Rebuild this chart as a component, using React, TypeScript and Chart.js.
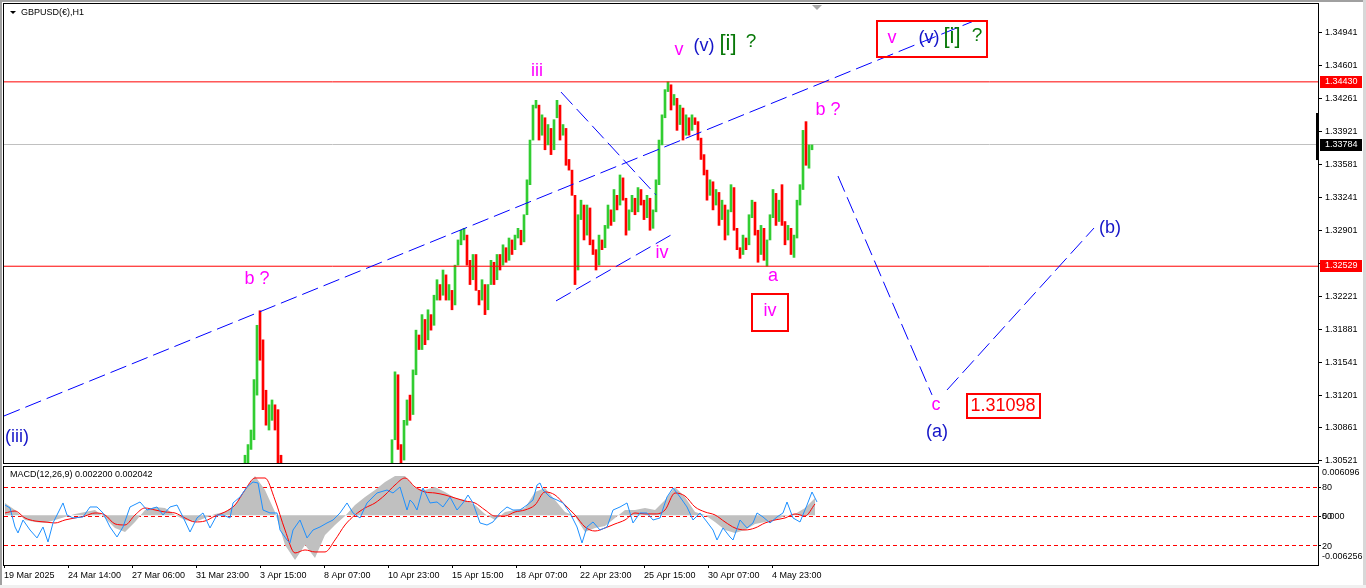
import { useEffect, useRef } from "react";
import { Chart, registerables } from "chart.js";

Chart.register(...registerables);

const FONT = "'Liberation Sans', Arial, Helvetica, sans-serif";

// ---------- time axis ----------
const TIME_LABELS = [
  "19 Mar 2025", "24 Mar 14:00", "27 Mar 06:00", "31 Mar 23:00", "3 Apr 15:00",
  "8 Apr 07:00", "10 Apr 23:00", "15 Apr 15:00", "18 Apr 07:00", "22 Apr 23:00",
  "25 Apr 15:00", "30 Apr 07:00", "4 May 23:00",
];
const TIME_LABEL_STEP = 64; // H1 bars between time labels
const BAR_SPAN = 1314; // bars visible (incl. right shift)
const SHIFT_BAR = 813;
const SYMBOL_TITLE = "GBPUSD(€),H1";

// ---------- price axis ----------
const PRICE_MIN = 1.305;
const PRICE_MAX = 1.35233;
const PRICE_TICKS = [
  1.34941, 1.34601, 1.34261, 1.33921, 1.33581, 1.33241, 1.32901,
  1.32561, 1.32221, 1.31881, 1.31541, 1.31201, 1.30861, 1.30521,
];
const RED_LEVELS = [1.3443, 1.32529];
const BID_PRICE = 1.33784;
const LAST_RANGE = [1.34109, 1.33624];

// ---------- candles (sampled every 3 H1 bars) ----------
const CANDLE_FIRST_BAR = 241;
const CANDLE_STEP = 3;
const N = null;
const candleOpen = [
  1.3043, 1.3050, 1.3064, 1.3074, 1.3120, 1.3207, 1.3177, 1.3125, 1.3084, 1.3094, 1.3110, 1.3105, 1.3058,
  N, N, N, N, N, N, N, N, N, N, N, N, N, N, N, N, N, N, N, N, N, N, N, N, N, N, N, N, N, N, N, N, N, N, N, N,
  1.3043, 1.3074, 1.3141, 1.3069, 1.3053, 1.3089, 1.3120, 1.3100, 1.3141, 1.3182,
  1.3167, 1.3198, 1.3177, 1.3203, 1.3192, 1.3218, 1.3234, 1.3223, 1.3244, 1.3218,
  1.3228, 1.3213, 1.3254, 1.3275, 1.3280, 1.3285, 1.3259, 1.3239, 1.3265, 1.3228,
  1.3218, 1.3234, 1.3208, 1.3234, 1.3257, 1.3239, 1.3265, 1.3254, 1.3272, 1.3259,
  1.3280, 1.3270, 1.3282, 1.3290, 1.3278, 1.3306, 1.3337, 1.3383, 1.3416, 1.3419,
  1.3388, 1.3406, 1.3378, 1.3395, 1.3373, 1.3406, 1.3419, 1.3388, 1.3395, 1.3363,
  1.3352, 1.3326, 1.3249, 1.3301, 1.3316, 1.3285, 1.3313, 1.3280, 1.3270, 1.3254,
  1.3280, 1.3272, 1.3292, 1.3311, 1.3299, 1.3326, 1.3316, 1.3344, 1.3323, 1.3290,
  1.3309, 1.3323, 1.3309, 1.3332, 1.3321, 1.3303, 1.3323, 1.3292, 1.3309, 1.3337,
  1.3378, 1.3406, 1.3433, 1.3440, 1.3419, 1.3426, 1.3399, 1.3416, 1.3388, 1.3406,
  1.3393, 1.3406, 1.3402, 1.3385, 1.3368, 1.3352, 1.3326, 1.3340, 1.3316, 1.3329,
  1.3301, 1.3316, 1.3285, 1.3309, 1.3334, 1.3292, 1.3272, 1.3265, 1.3282, 1.3275,
  1.3303, 1.3319, 1.3290, 1.3265, 1.3292, 1.3253, 1.3280, 1.3303, 1.3328, 1.3299,
  1.3337, 1.3299, 1.3280, 1.3292, 1.3262, 1.3282, 1.3316, 1.3332, 1.3402, 1.3354,
  1.3373,
];
const candleClose = [
  1.3058, 1.3069, 1.3084, 1.3136, 1.3192, 1.3156, 1.3105, 1.3089, 1.3110, 1.3115, 1.3084, 1.3043, 1.3033,
  N, N, N, N, N, N, N, N, N, N, N, N, N, N, N, N, N, N, N, N, N, N, N, N, N, N, N, N, N, N, N, N, N, N, N, N,
  1.3074, 1.3144, 1.3064, 1.3050, 1.3094, 1.3115, 1.3094, 1.3146, 1.3187, 1.3167,
  1.3203, 1.3172, 1.3208, 1.3187, 1.3223, 1.3239, 1.3218, 1.3249, 1.3218, 1.3234,
  1.3208, 1.3254, 1.3280, 1.3290, 1.3292, 1.3254, 1.3234, 1.3265, 1.3228, 1.3213,
  1.3239, 1.3203, 1.3234, 1.3259, 1.3234, 1.3265, 1.3249, 1.3275, 1.3257, 1.3282,
  1.3265, 1.3285, 1.3292, 1.3275, 1.3306, 1.3342, 1.3383, 1.3419, 1.3424, 1.3383,
  1.3409, 1.3373, 1.3399, 1.3368, 1.3404, 1.3424, 1.3383, 1.3399, 1.3357, 1.3352,
  1.3326, 1.3234, 1.3306, 1.3321, 1.3280, 1.3316, 1.3275, 1.3265, 1.3249, 1.3285,
  1.3270, 1.3295, 1.3316, 1.3295, 1.3332, 1.3311, 1.3347, 1.3321, 1.3285, 1.3311,
  1.3326, 1.3306, 1.3334, 1.3316, 1.3301, 1.3326, 1.3290, 1.3311, 1.3342, 1.3383,
  1.3409, 1.3435, 1.3443, 1.3414, 1.3430, 1.3393, 1.3419, 1.3383, 1.3409, 1.3388,
  1.3409, 1.3399, 1.3383, 1.3363, 1.3347, 1.3321, 1.3342, 1.3311, 1.3332, 1.3295,
  1.3321, 1.3280, 1.3311, 1.3337, 1.3290, 1.3270, 1.3261, 1.3285, 1.3270, 1.3306,
  1.3321, 1.3285, 1.3257, 1.3295, 1.3259, 1.3280, 1.3306, 1.3332, 1.3295, 1.3321,
  1.3295, 1.3275, 1.3295, 1.3265, 1.3285, 1.3321, 1.3337, 1.3393, 1.3357, 1.3378,
  1.3378,
];

// ---------- trend / forecast lines ----------
const TREND_BAR_FROM = [0, 552, 557, 834, 943];
const TREND_PRICE_FROM = [1.30985, 1.32171, 1.34325, 1.33459, 1.31253];
const TREND_BAR_TO = [968, 667, 652, 928, 1090];
const TREND_PRICE_TO = [1.3505, 1.32851, 1.33264, 1.31202, 1.32923];

// ---------- wave labels ----------
const LABEL_TEXT = ["iii", "v", "(v)", "[i]", "?", "v", "(v)", "[i]", "?", "b ?", "iv", "a", "iv", "b ?", "(iii)", "c", "1.31098", "(a)", "(b)"];
const LABEL_BAR = [533, 675, 700, 724, 747, 888, 925, 948, 973, 824, 658, 769, 766, 253, 13, 932, 999, 933, 1106];
const LABEL_PRICE = [1.34542, 1.34759, 1.348, 1.3482, 1.34841, 1.34882, 1.34882, 1.34893, 1.34903, 1.3414, 1.32666, 1.32428, 1.32068, 1.32398, 1.30769, 1.31098, 1.31088, 1.3082, 1.32923];
const LABEL_KIND = ["mag", "mag", "blue", "green", "greenQ", "mag", "blue", "green", "greenQ", "mag", "mag", "mag", "mag", "mag", "blue", "mag", "red", "blue", "blue"];

const BOX_BAR_FROM = [873, 748, 963];
const BOX_BAR_TO = [983, 784, 1036];
const BOX_PRICE_TOP = [1.35057, 1.32243, 1.31212];
const BOX_PRICE_BOTTOM = [1.34686, 1.31861, 1.30964];

// ---------- MACD window ----------
const MACD_TITLE = "MACD(12,26,9) 0.002200 0.002042";
const MACD_MAX = 0.006096;
const MACD_MIN = -0.006256;
const MACD_FIRST_BAR = 1;
const MACD_STEP = 10;
const macdMain = [
  0.00156, 0.00068, -0.00058, -0.00083, -0.00096, -0.00058, -0.0002, 0.00018, 0.00043, 0.00068,
  -0.00033, -0.00159, -0.00209, -0.00083, 0.00068, 0.00106, 0.00093, 0.00005, -0.00058, -0.00083,
  -0.00033, 0.00018, 0.00043, 0.00131, 0.0032, 0.00496, 0.0032, 0.00043, -0.00373, -0.00562,
  -0.00373, -0.00537, -0.00247, -0.00121, -0.00008, 0.00131, 0.00232, 0.0032, 0.00421, 0.00496,
  0.00496, 0.00345, 0.0032, 0.00358, 0.00295, 0.00219, 0.00194, 0.00131, 0.00018, -0.00058,
  0.00043, 0.00068, 0.00093, 0.00295, 0.00345, 0.00194, 0.00043, -0.00008, -0.00209, -0.00159,
  -0.00134, -0.00033, 0.00068, 0.00068, 0.00093, 0.00068, 0.00194, 0.00358, 0.00232, 0.00043,
  0.00005, -0.00083, -0.00184, -0.00222, -0.00184, -0.00108, -0.00083, -0.00058, -0.00008, 0.00018,
  0.00093, 0.00219,
];
const macdSignal = [
  0.0003, 0.00055, -0.00033, -0.00071, -0.00083, -0.00096, -0.00058, -0.00033, -0.00008, 0.0003,
  0.00005, -0.00108, -0.00121, 0.00005, 0.00093, 0.00068, 0.00043, 0.0003, -0.00033, -0.00083,
  -0.00071, -0.00008, 0.00043, 0.00131, 0.0032, 0.00471, 0.00471, 0.00194, -0.00184, -0.00474,
  -0.00436, -0.00461, -0.00461, -0.0031, -0.00121, 0.00005, 0.00093, 0.00156, 0.00257, 0.00383,
  0.00471, 0.00358, 0.00295, 0.00282, 0.00257, 0.00219, 0.00181, 0.00156, 0.00068, -0.00008,
  -0.00008, 0.00043, 0.00068, 0.00131, 0.00295, 0.00257, 0.00131, 0.00005, -0.00146, -0.00197,
  -0.00159, -0.00108, -0.00058, 0.0003, 0.00018, 0.00018, 0.00068, 0.00282, 0.00244, 0.00106,
  0.00043, 0.00005, -0.00083, -0.00159, -0.00184, -0.00159, -0.00096, -0.00058, -0.00033, 0.00018,
  -0.00008, 0.00144,
];
const oscBars = [
  1, 6, 11, 14, 19, 26, 33, 39, 44, 49, 59, 63, 69, 79, 86, 93, 99, 106, 113, 119,
  126, 136, 143, 153, 159, 166, 173, 179, 186, 193, 199, 206, 213, 219, 226, 229, 236, 243, 249, 254,
  259, 266, 273, 276, 283, 286, 289, 296, 303, 309, 316, 323, 329, 336, 343, 349, 356, 363, 373, 383,
  389, 396, 403, 406, 409, 413, 419, 426, 433, 439, 446, 453, 459, 464, 469, 476, 483, 489, 496, 503,
  509, 516, 523, 529, 533, 536, 539, 546, 553, 559, 566, 573, 578, 583, 589, 596, 603, 609, 616, 623,
  629, 636, 643, 649, 656, 663, 669, 676, 683, 689, 696, 703, 709, 713, 719, 726, 729, 736, 743, 749,
  753, 759, 766, 773, 779, 783, 789, 796, 803, 808, 813,
];
const oscValues = [
  61.2, 58.2, 38.8, 32.7, 45.9, 35.7, 27.6, 38.8, 23.5, 42.9, 63.3, 51.0, 48.0, 49.0, 59.2, 59.2, 53.1, 38.8, 28.6, 38.8,
  59.2, 64.3, 56.1, 59.2, 51.0, 59.2, 61.2, 49.0, 33.7, 48.0, 53.1, 37.8, 51.0, 51.0, 48.0, 63.3, 69.4, 79.6, 84.7, 83.7,
  56.1, 53.1, 53.1, 35.7, 25.5, 22.5, 35.7, 45.9, 27.6, 35.7, 38.8, 42.9, 45.9, 53.1, 63.3, 53.1, 48.0, 63.3, 73.5, 76.5,
  73.5, 79.6, 56.1, 66.3, 63.3, 56.1, 78.6, 63.3, 64.3, 59.2, 69.4, 56.1, 63.3, 71.4, 63.3, 42.9, 40.8, 43.9, 53.1, 59.2,
  56.1, 56.1, 61.2, 66.3, 81.6, 83.7, 76.5, 69.4, 66.3, 63.3, 53.1, 38.8, 22.5, 38.8, 43.9, 35.7, 38.8, 56.1, 59.2, 63.3,
  42.9, 53.1, 53.1, 45.9, 48.0, 69.4, 78.6, 69.4, 59.2, 45.9, 53.1, 43.9, 35.7, 25.5, 37.8, 28.6, 25.5, 45.9, 37.8, 42.9,
  53.1, 49.0, 42.9, 49.0, 53.1, 64.3, 48.0, 43.9, 61.2, 74.5, 64.3,
];
const OSC_LEVELS = [80, 50, 20];

// ---------- styles ----------
const GREEN = "#32CD32";
const RED = "#FF0000";
const KIND_STYLE: Record<string, { color: string; size: number }> = {
  mag: { color: "#FF00FF", size: 18 },
  blue: { color: "#1414C8", size: 18 },
  green: { color: "#087808", size: 22 },
  greenQ: { color: "#087808", size: 19 },
  red: { color: "#FF0000", size: 18 },
};

function candlePoints() {
  const pts: any[] = [];
  const n = Math.min(candleOpen.length, candleClose.length);
  for (let i = 0; i < n; i++) {
    const o = candleOpen[i];
    const c = candleClose[i];
    if (o == null || c == null) continue;
    pts.push({ x: CANDLE_FIRST_BAR + i * CANDLE_STEP, y: [o, c], up: c >= o });
  }
  return pts;
}

const mainDecor = {
  id: "mainDecor",
  afterDraw(chart: any) {
    const { ctx, chartArea: a, scales } = chart;
    const x = scales.x;
    const y = scales.y;
    ctx.save();
    // frame
    ctx.strokeStyle = "#000";
    ctx.lineWidth = 1;
    ctx.strokeRect(a.left - 0.5, a.top - 0.5, a.right - a.left + 1, a.bottom - a.top + 1);

    // title
    ctx.fillStyle = "#000";
    ctx.beginPath();
    ctx.moveTo(a.left + 6, a.top + 7);
    ctx.lineTo(a.left + 12, a.top + 7);
    ctx.lineTo(a.left + 9, a.top + 10);
    ctx.closePath();
    ctx.fill();
    ctx.font = `9px ${FONT}`;
    ctx.textAlign = "left";
    ctx.textBaseline = "middle";
    ctx.fillText(SYMBOL_TITLE, a.left + 17, a.top + 9);

    // chart shift marker
    const sx = x.getPixelForValue(SHIFT_BAR);
    ctx.fillStyle = "#A8A8A8";
    ctx.beginPath();
    ctx.moveTo(sx - 5, a.top + 1);
    ctx.lineTo(sx + 5, a.top + 1);
    ctx.lineTo(sx, a.top + 6);
    ctx.closePath();
    ctx.fill();

    // boxes
    ctx.strokeStyle = "#FF0000";
    ctx.lineWidth = 2;
    for (let i = 0; i < BOX_BAR_FROM.length; i++) {
      const x1 = Math.round(x.getPixelForValue(BOX_BAR_FROM[i]));
      const x2 = Math.round(x.getPixelForValue(BOX_BAR_TO[i]));
      const y1 = Math.round(y.getPixelForValue(BOX_PRICE_TOP[i]));
      const y2 = Math.round(y.getPixelForValue(BOX_PRICE_BOTTOM[i]));
      ctx.strokeRect(x1, y1, x2 - x1, y2 - y1);
    }

    // labels
    ctx.textAlign = "center";
    ctx.textBaseline = "middle";
    for (let i = 0; i < LABEL_TEXT.length; i++) {
      const st = KIND_STYLE[LABEL_KIND[i]];
      ctx.font = `${st.size}px ${FONT}`;
      ctx.fillStyle = st.color;
      ctx.fillText(LABEL_TEXT[i], x.getPixelForValue(LABEL_BAR[i]), y.getPixelForValue(LABEL_PRICE[i]));
    }

    // last bar range marker
    const r1 = y.getPixelForValue(LAST_RANGE[0]);
    const r2 = y.getPixelForValue(LAST_RANGE[1]);
    ctx.fillStyle = "#000";
    ctx.fillRect(a.right - 2, r1, 3, r2 - r1);

    // axis price tags
    const tag = (v: number, bg: string) => {
      const py = Math.round(y.getPixelForValue(v));
      ctx.fillStyle = bg;
      ctx.fillRect(a.right + 2, py - 6, 42, 12);
      ctx.fillStyle = "#fff";
      ctx.font = `9px ${FONT}`;
      ctx.textAlign = "left";
      ctx.textBaseline = "middle";
      ctx.fillText(v.toFixed(5), a.right + 7, py);
    };
    RED_LEVELS.forEach((v) => tag(v, "#FF0000"));
    tag(BID_PRICE, "#000000");
    ctx.restore();
  },
};

const macdDecor = {
  id: "macdDecor",
  beforeDatasetsDraw(chart: any) {
    const { ctx, chartArea: a, scales } = chart;
    const yo = scales.yO;
    ctx.save();
    ctx.strokeStyle = "#FF0000";
    ctx.lineWidth = 1;
    ctx.setLineDash([4, 3]);
    OSC_LEVELS.forEach((v) => {
      const py = Math.round(yo.getPixelForValue(v)) + 0.5;
      ctx.beginPath();
      ctx.moveTo(a.left, py);
      ctx.lineTo(a.right, py);
      ctx.stroke();
    });
    ctx.restore();
  },
  afterDraw(chart: any) {
    const { ctx, chartArea: a, scales } = chart;
    const yo = scales.yO;
    const ym = scales.yM;
    ctx.save();
    ctx.strokeStyle = "#000";
    ctx.lineWidth = 1;
    ctx.strokeRect(a.left - 0.5, a.top - 0.5, a.right - a.left + 1, a.bottom - a.top + 1);
    ctx.fillStyle = "#000";
    ctx.font = `9px ${FONT}`;
    ctx.textAlign = "left";
    ctx.textBaseline = "middle";
    ctx.fillText(MACD_TITLE, a.left + 6, a.top + 8);

    const lx = a.right + 4;
    const tick = (py: number) => {
      ctx.beginPath();
      ctx.moveTo(a.right, Math.round(py) + 0.5);
      ctx.lineTo(a.right + 3, Math.round(py) + 0.5);
      ctx.stroke();
    };
    ctx.fillText(MACD_MAX.toFixed(6), lx, a.top + 6);
    ctx.fillText(MACD_MIN.toFixed(6), lx, a.bottom - 8);
    OSC_LEVELS.forEach((v) => {
      const py = yo.getPixelForValue(v);
      tick(py);
      ctx.fillText(String(v), lx, py + 1);
    });
    const z = ym.getPixelForValue(0);
    ctx.fillText("0.000", lx, z + 1);
    ctx.restore();
  },
};

function mainConfig(): any {
  const candles = candlePoints();
  const trendSets = TREND_BAR_FROM.map((b, i) => ({
    type: "line",
    data: [
      { x: b, y: TREND_PRICE_FROM[i] },
      { x: TREND_BAR_TO[i], y: TREND_PRICE_TO[i] },
    ],
    borderColor: "#0000FF",
    borderWidth: 1,
    borderDash: [17, 6],
    pointRadius: 0,
    fill: false,
    order: 0,
  }));
  const levelSets = RED_LEVELS.map((v) => ({
    type: "line",
    data: [{ x: 0, y: v }, { x: BAR_SPAN, y: v }],
    borderColor: "#FF0000",
    borderWidth: 1,
    pointRadius: 0,
    fill: false,
    order: 1,
  }));
  return {
    type: "line",
    data: {
      datasets: [
        ...trendSets,
        ...levelSets,
        {
          type: "bar",
          data: candles,
          backgroundColor: (c: any) => (c.raw && c.raw.up ? GREEN : RED),
          borderWidth: 0,
          barThickness: 2,
          grouped: false,
          order: 5,
        },
        {
          type: "line",
          data: [{ x: 0, y: BID_PRICE }, { x: BAR_SPAN, y: BID_PRICE }],
          borderColor: "#C0C0C0",
          borderWidth: 1,
          pointRadius: 0,
          fill: false,
          order: 9,
        },
      ],
    },
    options: {
      animation: false,
      responsive: false,
      devicePixelRatio: 1,
      events: [],
      layout: { padding: { left: 4, top: 4, right: 0, bottom: 3 } },
      plugins: { legend: { display: false }, tooltip: { enabled: false } },
      scales: {
        x: {
          type: "linear",
          min: 0,
          max: BAR_SPAN,
          offset: false,
          display: false,
          afterFit: (s: any) => {
            s.paddingLeft = 0;
            s.paddingRight = 0;
          },
        },
        y: {
          type: "linear",
          position: "right",
          min: PRICE_MIN,
          max: PRICE_MAX,
          afterBuildTicks: (s: any) => {
            s.ticks = PRICE_TICKS.map((v) => ({ value: v }));
          },
          afterFit: (s: any) => {
            s.width = 48;
            s.paddingTop = 0;
            s.paddingBottom = 0;
          },
          ticks: {
            autoSkip: false,
            padding: 3,
            color: "#000",
            font: { family: FONT, size: 9 },
            callback: (v: any) => Number(v).toFixed(5),
          },
          grid: { drawOnChartArea: false, drawTicks: true, tickLength: 4, color: "#000" },
          border: { display: false },
        },
      },
    },
    plugins: [mainDecor],
  };
}

function macdConfig(): any {
  const hist = macdMain.map((v, i) => ({ x: MACD_FIRST_BAR + i * MACD_STEP, y: v }));
  const sig = macdSignal.map((v, i) => ({ x: MACD_FIRST_BAR + i * MACD_STEP, y: v }));
  const osc = oscValues.map((v, i) => ({ x: oscBars[i], y: v }));
  return {
    type: "line",
    data: {
      datasets: [
        {
          data: osc,
          yAxisID: "yO",
          borderColor: "#1E90FF",
          borderWidth: 1,
          pointRadius: 0,
          fill: false,
          order: 0,
        },
        {
          data: sig,
          yAxisID: "yM",
          borderColor: "#FF0000",
          borderWidth: 1,
          pointRadius: 0,
          cubicInterpolationMode: "monotone",
          fill: false,
          order: 1,
        },
        {
          data: hist,
          yAxisID: "yM",
          borderColor: "rgba(0,0,0,0)",
          borderWidth: 0,
          backgroundColor: "#C0C0C0",
          pointRadius: 0,
          fill: "origin",
          order: 2,
        },
      ],
    },
    options: {
      animation: false,
      responsive: false,
      devicePixelRatio: 1,
      events: [],
      layout: { padding: { left: 4, top: 1, right: 48, bottom: 0 } },
      plugins: { legend: { display: false }, tooltip: { enabled: false } },
      scales: {
        x: {
          type: "linear",
          min: 0,
          max: BAR_SPAN,
          offset: false,
          position: "bottom",
          afterBuildTicks: (s: any) => {
            s.ticks = TIME_LABELS.map((_, i) => ({ value: i * TIME_LABEL_STEP }));
          },
          afterFit: (s: any) => {
            s.height = 23;
            s.paddingLeft = 0;
            s.paddingRight = 0;
          },
          ticks: {
            autoSkip: false,
            maxRotation: 0,
            minRotation: 0,
            align: "start",
            padding: 2,
            color: "#000",
            font: { family: FONT, size: 9 },
            callback: (_v: any, i: number) => TIME_LABELS[i],
          },
          grid: { drawOnChartArea: false, drawTicks: true, tickLength: 3, color: "#000" },
          border: { display: false },
        },
        yM: { type: "linear", min: MACD_MIN, max: MACD_MAX, display: false },
        yO: { type: "linear", min: 0, max: 100, display: false },
      },
    },
    plugins: [macdDecor],
  };
}

export default function App() {
  const mainRef = useRef<HTMLCanvasElement>(null);
  const macdRef = useRef<HTMLCanvasElement>(null);
  useEffect(() => {
    const c1 = new Chart(mainRef.current as HTMLCanvasElement, mainConfig());
    const c2 = new Chart(macdRef.current as HTMLCanvasElement, macdConfig());
    return () => {
      c1.destroy();
      c2.destroy();
    };
  }, []);
  return (
    <div style={{ position: "absolute", left: 0, top: 0, width: 1366, height: 588, background: "#fff", overflow: "hidden" }}>
      <canvas ref={mainRef} width={1366} height={466} style={{ position: "absolute", left: 0, top: 0 }} />
      <canvas ref={macdRef} width={1366} height={122} style={{ position: "absolute", left: 0, top: 466 }} />
      <div style={{ position: "absolute", left: 0, top: 0, width: 1366, height: 2, background: "#A0A0A0" }} />
      <div style={{ position: "absolute", left: 0, top: 0, width: 2, height: 588, background: "#A0A0A0" }} />
      <div style={{ position: "absolute", left: 1363, top: 0, width: 3, height: 588, background: "#D8D8D8" }} />
      <div style={{ position: "absolute", left: 0, top: 585, width: 1366, height: 3, background: "#F0F0F0" }} />
    </div>
  );
}
